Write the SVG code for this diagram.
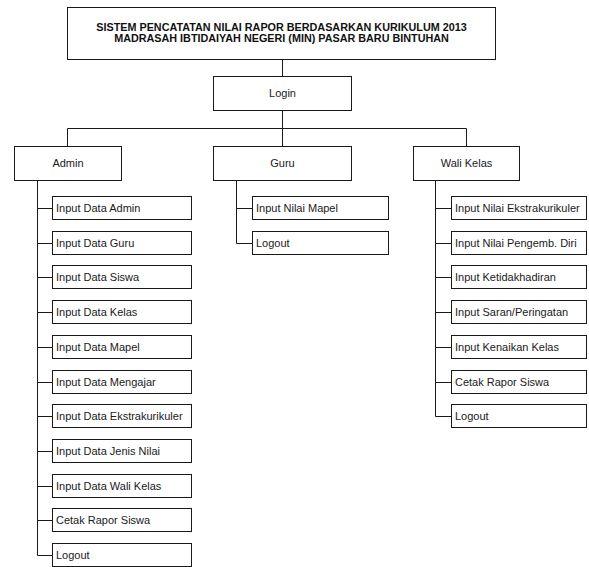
<svg xmlns="http://www.w3.org/2000/svg" width="589" height="567" viewBox="0 0 589 567">
<style>
.box{fill:#fff;stroke:#1a1a1a;stroke-width:1}
.ln{fill:none;stroke:#1a1a1a;stroke-width:1}
.t{font-family:"Liberation Sans",Arial,sans-serif;font-size:11px;fill:#1a1a1a}
.c{text-anchor:middle}
.tb{font-family:"Liberation Sans",Arial,sans-serif;font-size:10.8px;font-weight:bold;fill:#111;text-anchor:middle}
</style>
<rect width="589" height="567" fill="#fff"/>
<g id="connectors" class="ln">
<path d="M282.5 59.5V76.5M282.5 110.5V146.5M67.5 146.5V128.5H466.5V146.5"/>
<path d="M37.5 180.5V555.5H52.5M37.5 208.5H52.5M37.5 243.5H52.5M37.5 277.5H52.5M37.5 312.5H52.5M37.5 347.5H52.5M37.5 382.5H52.5M37.5 416.5H52.5M37.5 451.5H52.5M37.5 486.5H52.5M37.5 520.5H52.5"/>
<path d="M236.5 180.5V243.5H252.5M236.5 208.5H252.5"/>
<path d="M435.5 180.5V416.5H451.5M435.5 208.5H451.5M435.5 243.5H451.5M435.5 277.5H451.5M435.5 312.5H451.5M435.5 347.5H451.5M435.5 382.5H451.5"/>
</g>
<g id="title"><rect class="box" x="67.5" y="7.5" width="428" height="52"/>
<text class="tb" x="281.5" y="31">SISTEM PENCATATAN NILAI RAPOR BERDASARKAN KURIKULUM 2013</text>
<text class="tb" x="281.5" y="41.5">MADRASAH IBTIDAIYAH NEGERI (MIN) PASAR BARU BINTUHAN</text></g>
<g id="login"><rect class="box" x="213.5" y="76.5" width="138" height="34"/><text class="t c" x="282.5" y="97">Login</text></g>
<g id="admin"><rect class="box" x="14.5" y="146.5" width="107" height="34"/><text class="t c" x="68" y="167">Admin</text></g>
<g id="guru"><rect class="box" x="213.5" y="146.5" width="138" height="34"/><text class="t c" x="282.5" y="167">Guru</text></g>
<g id="wali"><rect class="box" x="413.5" y="146.5" width="106" height="34"/><text class="t c" x="466.5" y="167">Wali Kelas</text></g>

<g id="a1"><rect class="box" x="52.5" y="196.5" width="139" height="23"/><text class="t" x="56" y="212">Input Data Admin</text></g>
<g id="a2"><rect class="box" x="52.5" y="231.5" width="139" height="23"/><text class="t" x="56" y="247">Input Data Guru</text></g>
<g id="a3"><rect class="box" x="52.5" y="265.5" width="139" height="23"/><text class="t" x="56" y="281">Input Data Siswa</text></g>
<g id="a4"><rect class="box" x="52.5" y="300.5" width="139" height="23"/><text class="t" x="56" y="316">Input Data Kelas</text></g>
<g id="a5"><rect class="box" x="52.5" y="335.5" width="139" height="23"/><text class="t" x="56" y="351">Input Data Mapel</text></g>
<g id="a6"><rect class="box" x="52.5" y="370.5" width="139" height="23"/><text class="t" x="56" y="386">Input Data Mengajar</text></g>
<g id="a7"><rect class="box" x="52.5" y="404.5" width="139" height="23"/><text class="t" x="56" y="420">Input Data Ekstrakurikuler</text></g>
<g id="a8"><rect class="box" x="52.5" y="439.5" width="139" height="23"/><text class="t" x="56" y="455">Input Data Jenis Nilai</text></g>
<g id="a9"><rect class="box" x="52.5" y="474.5" width="139" height="23"/><text class="t" x="56" y="490">Input Data Wali Kelas</text></g>
<g id="a10"><rect class="box" x="52.5" y="508.5" width="139" height="23"/><text class="t" x="56" y="524">Cetak Rapor Siswa</text></g>
<g id="a11"><rect class="box" x="52.5" y="543.5" width="139" height="23"/><text class="t" x="56" y="559">Logout</text></g>

<g id="g1"><rect class="box" x="252.5" y="196.5" width="136" height="23"/><text class="t" x="256" y="212">Input Nilai Mapel</text></g>
<g id="g2"><rect class="box" x="252.5" y="231.5" width="136" height="23"/><text class="t" x="256" y="247">Logout</text></g>

<g id="w1"><rect class="box" x="451.5" y="196.5" width="135" height="23"/><text class="t" x="455" y="212">Input Nilai Ekstrakurikuler</text></g>
<g id="w2"><rect class="box" x="451.5" y="231.5" width="135" height="23"/><text class="t" x="455" y="247">Input Nilai Pengemb. Diri</text></g>
<g id="w3"><rect class="box" x="451.5" y="265.5" width="135" height="23"/><text class="t" x="455" y="281">Input Ketidakhadiran</text></g>
<g id="w4"><rect class="box" x="451.5" y="300.5" width="135" height="23"/><text class="t" x="455" y="316">Input Saran/Peringatan</text></g>
<g id="w5"><rect class="box" x="451.5" y="335.5" width="135" height="23"/><text class="t" x="455" y="351">Input Kenaikan Kelas</text></g>
<g id="w6"><rect class="box" x="451.5" y="370.5" width="135" height="23"/><text class="t" x="455" y="386">Cetak Rapor Siswa</text></g>
<g id="w7"><rect class="box" x="451.5" y="404.5" width="135" height="23"/><text class="t" x="455" y="420">Logout</text></g>
</svg>
